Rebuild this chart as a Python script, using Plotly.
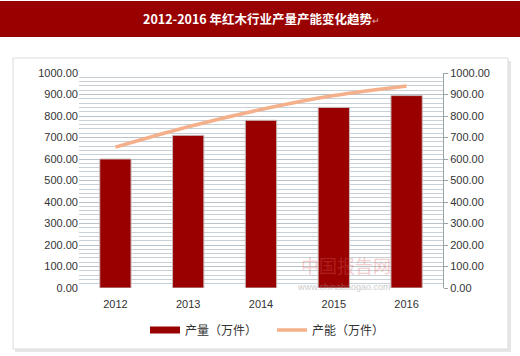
import plotly.graph_objects as go

years = ["2012", "2013", "2014", "2015", "2016"]
output_vals = [600, 710, 780, 840, 895]
capacity_vals = [655, 750, 830, 895, 940]
tick_vals = [0, 100, 200, 300, 400, 500, 600, 700, 800, 900, 1000]
tick_text = [f"{v:.2f}" for v in tick_vals]

W, H = 520, 356
pl, pr, pt, pb = 79, 77, 73, 68
pw, ph = W - pl - pr, H - pt - pb
def px(x):
    return (x - pl) / pw
def py(y):
    return (H - pb - y) / ph

BAR_RED = "#990000"
LINE_ORANGE = "#f4b08a"
font_main = "Liberation Sans, Arial, sans-serif"

fig = go.Figure()
fig.add_trace(go.Bar(
    x=years, y=output_vals, name="产量（万件）", showlegend=False,
    marker=dict(color=BAR_RED, line=dict(color="#c9b8b8", width=1)),
))
# legend entry drawn as a thick bar-coloured swatch
fig.add_trace(go.Scatter(
    x=[None], y=[None], name="产量（万件）", mode="lines",
    line=dict(color=BAR_RED, width=7),
))
fig.add_trace(go.Scatter(
    x=years, y=capacity_vals, name="产能（万件）", mode="lines",
    line=dict(color=LINE_ORANGE, width=3.5, shape="spline"), yaxis="y2",
))

fig.update_layout(
    width=W, height=H,
    margin=dict(l=pl, r=pr, t=pt, b=pb, autoexpand=False),
    paper_bgcolor="white", plot_bgcolor="#f8fafb",
    bargap=0.57,
    showlegend=True,
    legend=dict(orientation="h", x=px(145), xanchor="left", y=py(330), yanchor="middle",
                font=dict(family="Noto Sans CJK SC", size=12, color="#333333"),
                itemwidth=30, traceorder="normal", entrywidthmode="pixels", entrywidth=82,
                bgcolor="rgba(0,0,0,0)"),
    xaxis=dict(showgrid=False, showline=False, ticks="", ticklabelstandoff=8,
               tickfont=dict(family=font_main, size=11, color="#333333")),
    yaxis=dict(range=[0, 1000], tickvals=tick_vals, ticktext=tick_text,
               showgrid=True, gridcolor="#b7c2ca", gridwidth=1,
               minor=dict(dtick=20, showgrid=True, gridcolor="#c8d1d8", gridwidth=1),
               zeroline=False, showline=False, ticks="",
               tickfont=dict(family=font_main, size=11, color="#333333")),
    yaxis2=dict(range=[0, 1000], tickvals=tick_vals, ticktext=tick_text,
                overlaying="y", side="right", showgrid=False, zeroline=False,
                showline=True, linecolor="#9aa4ab", ticks="outside", ticklen=4,
                tickcolor="#9aa4ab",
                tickfont=dict(family=font_main, size=11, color="#333333")),
)

fig.add_shape(type="rect", xref="paper", yref="paper",
              x0=px(0), x1=px(520), y0=py(37), y1=py(1),
              fillcolor="#990000", line=dict(width=0), layer="below")
fig.add_shape(type="rect", xref="paper", yref="paper",
              x0=px(15), x1=px(511), y0=py(352), y1=py(61),
              fillcolor="#e6e6e6", line=dict(width=0), layer="below")
fig.add_shape(type="rect", xref="paper", yref="paper",
              x0=px(13), x1=px(508), y0=py(349), y1=py(58),
              fillcolor="white", line=dict(color="#dcdcdc", width=1), layer="below")

fig.add_annotation(xref="paper", yref="paper", x=px(261), y=py(18),
                   text="<b>2012-2016 年红木行业产量产能变化趋势</b><span style='color:#e8b0b0;font-size:9px'>↵</span>",
                   showarrow=False, xanchor="center", yanchor="middle",
                   font=dict(family="Noto Sans CJK SC", size=12.5, color="white"))
fig.add_annotation(xref="paper", yref="paper", x=px(393), y=py(280),
                   text="中国报告网", showarrow=False, opacity=0.3,
                   font=dict(family="Noto Sans CJK SC", size=18, color="#e06060"))
fig.add_annotation(xref="paper", yref="paper", x=px(393), y=py(294),
                   text="www.chinabaogao.com", showarrow=False, opacity=0.5,
                   font=dict(family=font_main, size=9, color="#999999"))

fig.write_html("out.html", config={"displayModeBar": False},
               post_script="document.body.style.margin='0';")
